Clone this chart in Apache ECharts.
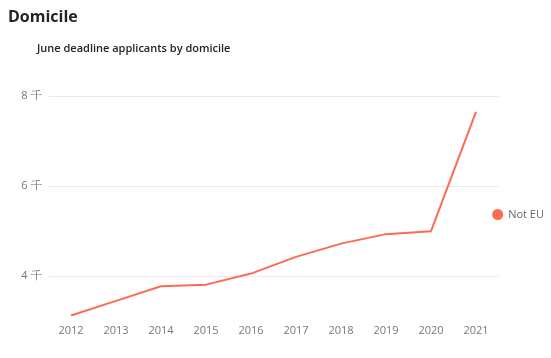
<!DOCTYPE html>
<html><head><meta charset="utf-8">
<script src="https://cdn.jsdelivr.net/npm/echarts@6/dist/echarts.min.js"></script>
<style>html,body{margin:0;padding:0;background:#fff}#c{width:551px;height:358px}</style>
</head><body><div id="c"></div>
<script>
const years = ['2012','2013','2014','2015','2016','2017','2018','2019','2020','2021'];
const notEU = [3130, 3455, 3780, 3815, 4060, 4430, 4725, 4935, 5000, 7650];
const yTicks = [4000, 6000, 8000];
const seriesName = 'Not EU';
const yMin = 3130, yMax = 8000;

const chart = echarts.init(document.getElementById('c'), null, {renderer:'canvas'});
const font = '"Open Sans", "Noto Sans", sans-serif';
chart.setOption({
  animation: false,
  title: [
    {text: 'Domicile', left: 3, top: 4, textStyle: {fontFamily: font, fontSize: 16, fontWeight: 'bold', color: '#252423'}},
    {text: 'June deadline applicants by domicile', left: 32, top: 38, textStyle: {fontFamily: font, fontSize: 11, fontWeight: 600, color: '#252423'}}
  ],
  legend: {
    orient: 'vertical', right: 2, top: 204, icon: 'circle', itemWidth: 11, itemHeight: 11, itemGap: 4,
    textStyle: {fontFamily: font, fontSize: 11, color: '#666'},
    data: [seriesName]
  },
  grid: {left: 48.5, right: 52.5, top: 96, bottom: 42.5, containLabel: false},
  xAxis: {
    type: 'category', data: years, boundaryGap: true,
    axisLine: {show: false}, axisTick: {show: false},
    axisLabel: {fontFamily: font, fontSize: 11, color: '#777', margin: 10}
  },
  yAxis: {
    type: 'value', min: yMin, max: yMax,
    splitLine: {show: false}, axisLine: {show: false}, axisTick: {show: false},
    axisLabel: {customValues: yTicks, fontFamily: font, fontSize: 11, color: '#777', margin: 7,
      formatter: v => (v/1000) + ' 千'}
  },
  series: [{
    name: seriesName, type: 'line', data: notEU, symbol: 'none', showSymbol: false,
    lineStyle: {width: 2, color: '#fd6b55'}, itemStyle: {color: '#fd6b55'},
    markLine: {
      silent: true, symbol: 'none', label: {show: false}, z: 0,
      lineStyle: {color: '#ebebeb', width: 1, type: 'solid'},
      data: yTicks.map(v => ({yAxis: v}))
    }
  }]
});
</script></body></html>
